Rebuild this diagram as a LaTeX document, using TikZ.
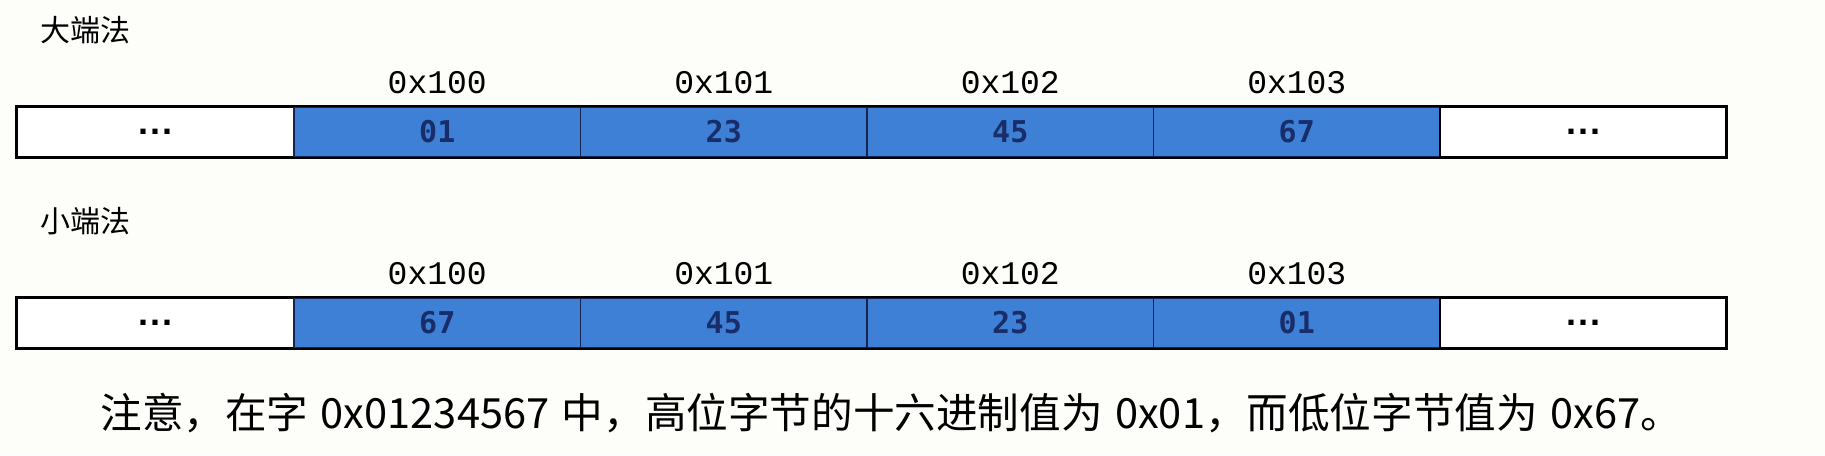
\documentclass[tikz,border=0pt]{standalone}
\usepackage{fontspec}
\setmainfont{Noto Sans CJK SC}
\newfontfamily\adrfont{Liberation Mono}
\newfontfamily\wertfont{DejaVu Sans Mono}
\newfontfamily\punktfont{Liberation Sans}
\usetikzlibrary{positioning}
\definecolor{papier}{RGB}{253,253,249}
\definecolor{speicherblau}{RGB}{62,128,214}
\definecolor{rahmenblau}{RGB}{20,35,80}
\definecolor{wertblau}{RGB}{25,45,105}
\newcommand{\punkte}{{\punktfont\bfseries\fontsize{18}{18}\selectfont .\kern1pt.\kern1pt.}}
\newcommand{\lz}{\hspace{0.3em}}
\tikzset{
  zelle/.style={draw=black, line width=1.2pt, fill=white, minimum height=25pt, inner sep=0pt},
  blauzelle/.style={draw=rahmenblau, line width=0.8pt, fill=speicherblau, minimum height=25pt,
    minimum width=143.25pt, inner sep=0pt, text=wertblau, font=\wertfont\bfseries\fontsize{15}{15}\selectfont},
  adresse/.style={inner sep=0pt, font=\adrfont\fontsize{16.5}{16.5}\selectfont},
  titel/.style={inner sep=0pt, font=\fontsize{15}{15}\selectfont},
  hinweis/.style={inner sep=0pt, font=\fontsize{20.8}{20.8}\selectfont},
}
\begin{document}
\begin{tikzpicture}[x=0.5pt,y=-0.5pt]
\useasboundingbox[fill=papier] (0,0) rectangle (1825,455);
% oben Big Endian, unten Little Endian
\foreach \y/\art/\titel/\werte in {107/gross/大端法/{01,23,45,67},298/klein/小端法/{67,45,23,01}}{
  \node[titel,anchor=west] (\art-titel) at (40,\y-77) {\titel};
  \node[zelle,minimum width=138.5pt] (\art-links) at (155.5,\y+25) {\punkte};
  \foreach \w [count=\i from 0] in \werte {
    \node[blauzelle] (\art-\i) at (294+286.5*\i+143.25,\y+25) {\w};
    \node[adresse,above=6pt of \art-\i] (\art-adr-\i) {0x10\i};
  }
  \node[zelle,minimum width=143pt] (\art-rechts) at (1583,\y+25) {\punkte};
  \draw[line width=1.2pt] (\art-links.north west) rectangle (\art-rechts.south east);
}
\node[hinweis,anchor=west] (hinweis) at (100,413) {注意，在字\lz 0x01234567\lz 中，高位字节的十六进制值为\lz 0x01，而低位字节值为\lz 0x67。};
\end{tikzpicture}
\end{document}
